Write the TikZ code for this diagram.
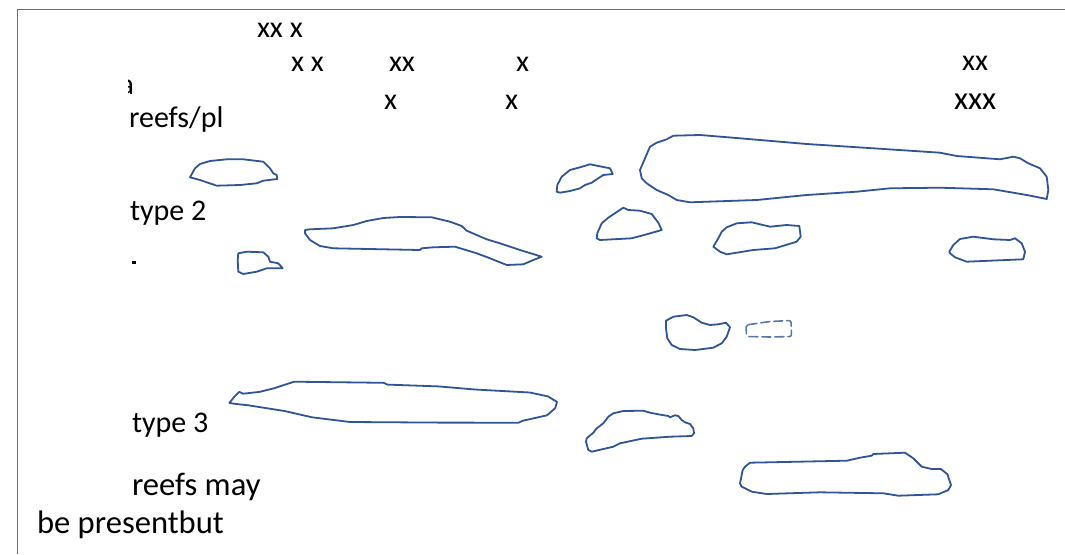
\documentclass[tikz,border=0pt]{standalone}
\usepackage{fontspec}
\setmainfont{Carlito}
\definecolor{reefblue}{HTML}{2F5597}
\tikzset{
  reef/.style={draw=reefblue, line width=1.8pt, line join=round, line cap=round},
  frameline/.style={draw=reefblue!85, line width=1.8pt},
  lbl/.style={anchor=base west, inner sep=0pt, outer sep=0pt, font=\fontsize{30}{36}\selectfont, text=black},
  biglbl/.style={lbl, font=\fontsize{32.6}{38}\selectfont}
}
\begin{document}
\begin{tikzpicture}[x=1pt,y=-1pt]
\useasboundingbox (0,0) rectangle (1065,554);
% frame
\draw[frameline] (17.5,554) -- (17.5,9.5) -- (1065,9.5);
% texts
\node[lbl] (t1) at (257,37) {xx x};
\node[lbl] (t2) at (291,71) {x x};
\node[lbl] (t3) at (389,71) {xx};
\node[lbl] (t4) at (516,71) {x};
\node[lbl] (t5) at (962,70) {xx};
\node[lbl] (t6) at (384,109) {x};
\node[lbl] (t7) at (505,109) {x};
\node[biglbl] (t8) at (954,109) {xxx};
\begin{scope}
\clip (128,70) rectangle (200,100);
\node[lbl] (ta) at (119.5,94) {a};
\end{scope}
\node[lbl] (t9) at (129,127) {reefs/pl};
\node[lbl] (t10) at (130,220) {type 2};
\fill[black] (132,261) rectangle (135.5,263.5);
\node[lbl] (t11) at (132,432) {type 3};
\node[biglbl] (t12) at (132,495) {reefs may};
\node[biglbl] (t13) at (37,533) {be presentbut};
% reefs
\draw[reef] (190,177.3) -- (195,168.3) -- (200,164) -- (210,161) -- (226.7,159.3) -- (243.3,159.3) -- (263.3,161.7) -- (270,168.3) -- (273.3,173.3) -- (276.7,175) -- (277.3,179) -- (263.3,180.7) -- (256.7,183.3) -- (240,185) -- (216.7,185.7) -- (200,180) -- cycle;
\draw[reef] (238.3,253.3) -- (246.7,251.7) -- (263.3,252.3) -- (268.3,256.7) -- (270,261.7) -- (278.3,263.3) -- (282.7,268.3) -- (266.7,268.3) -- (256.7,271.7) -- (243.3,274) -- (238.3,271.7) -- (237.7,260) -- cycle;
\draw[reef] (305,230) -- (310,229.3) -- (333.3,228.3) -- (353.3,225) -- (366.7,221) -- (383.3,218) -- (400,217) -- (431.7,217.3) -- (450,221.7) -- (461.7,226) -- (466.7,230.7) -- (476.7,235) -- (486.7,239.3) -- (500,243.3) -- (520,250) -- (541.7,256.7) -- (533.3,260) -- (523.3,264.3) -- (506.7,265) -- (490,258.3) -- (476.7,253.3) -- (455,246.7) -- (433.3,247.3) -- (421.7,248.3) -- (420,250) -- (333.3,248.3) -- (320,246) -- (310,240) -- (305,233.3) -- cycle;
\draw[reef] (556.7,191.7) -- (557.3,185) -- (561.7,176.7) -- (570,170) -- (580,167.3) -- (590,164.3) -- (598.3,166) -- (610,168.3) -- (612.7,174) -- (603.3,175) -- (596.7,179.3) -- (591.7,182.7) -- (585,185) -- (580,188.3) -- (570,191) -- (560,192.7) -- cycle;
\draw[reef] (673.3,135.7) -- (700,135) -- (740,138.3) -- (806.7,144) -- (873.3,148.3) -- (940,152.7) -- (956.7,156) -- (1000,159.3) -- (1013.3,156.7) -- (1020,158.3) -- (1028.3,163.3) -- (1040,168.3) -- (1046.7,176.7) -- (1048.3,190) -- (1046.7,199) -- (1026.7,195) -- (993.3,189.3) -- (940,187.7) -- (890,188.3) -- (873.3,190) -- (856.7,191.7) -- (806.7,195) -- (756.7,200) -- (690,202.3) -- (676.7,200) -- (668.3,195) -- (656.7,190) -- (646.7,183.3) -- (641.7,178.3) -- (640,170) -- (645,158.3) -- (650,146.7) -- (656.7,142.7) -- (666.7,139.3) -- cycle;
\draw[reef] (596.7,238.3) -- (597.3,233.3) -- (601.7,223.3) -- (608.3,217.7) -- (623.3,207.7) -- (628.3,210) -- (640,210.7) -- (651.7,214) -- (658.3,222.7) -- (661.7,230) -- (646.7,234.3) -- (631.7,238.3) -- (600,240) -- cycle;
\draw[reef] (713.3,246.7) -- (718.3,238.3) -- (721.7,231.7) -- (726.7,227.3) -- (736.7,223.3) -- (751.7,222.3) -- (770,226.7) -- (786.7,225) -- (799.3,226) -- (800.7,236.7) -- (796.7,241.7) -- (775,248.3) -- (753.3,250) -- (726.7,254.3) -- (720,251.7) -- cycle;
\draw[reef] (949.3,251.7) -- (953.3,245) -- (960,239) -- (973.3,236.7) -- (993.3,239.3) -- (1010,240) -- (1015,238.3) -- (1021.7,243.3) -- (1025,251.7) -- (1023.3,259.3) -- (990,260.7) -- (966.7,261.7) -- (955,257.3) -- (950,253.3) -- cycle;
\draw[reef] (666,320.7) -- (673.3,316.7) -- (686.7,315) -- (693.3,317.3) -- (701.7,322.7) -- (710,325) -- (718.3,324.3) -- (726,322.7) -- (730,327.3) -- (726.7,336.7) -- (721.7,343.3) -- (713.3,347.7) -- (695,350) -- (680,349) -- (671.7,345) -- (667.3,338.3) -- (666,328.3) -- cycle;
\draw[reef, line width=1.6pt, dash pattern=on 9pt off 4pt, draw=reefblue!80, rounded corners=2pt] (746,325) -- (770,321.5) -- (791,320.5) -- (791.5,336.5) -- (770,337) -- (746.5,336.5) -- cycle;
\draw[reef] (229.4,402.9) -- (233.8,397.4) -- (239.3,391.9) -- (243,393.7) -- (259.4,391.9) -- (274,388.3) -- (294.1,381.7) -- (383.6,382.8) -- (387.3,384.6) -- (438.4,386.4) -- (475,389.5) -- (529.8,392.5) -- (548,396.4) -- (557,401.9) -- (555.2,408.2) -- (547,415.3) -- (522.5,420.8) -- (518.8,422.7) -- (438.4,422.6) -- (350,422) -- (312,417.3) -- (285,411.1) -- (248.4,405.3) -- (233.8,403.7) -- cycle;
\draw[reef] (586,441.7) -- (586.7,438.3) -- (593.3,432.7) -- (596.7,428.3) -- (603.3,423.3) -- (608.3,416.7) -- (613.3,413.3) -- (623.3,411) -- (643.3,410.7) -- (650,412.7) -- (658.3,414.3) -- (668.3,416) -- (670,417.3) -- (675,415.3) -- (678.3,416) -- (681.7,420) -- (685,422.3) -- (690,424) -- (693.3,428.3) -- (694,433.3) -- (691.7,436) -- (670,436.7) -- (641.7,438.7) -- (620,443.3) -- (613.3,446.7) -- (591.7,451.7) -- (588.3,450) -- cycle;
\draw[reef] (750,462.7) -- (846.7,460.7) -- (860,457.7) -- (871.7,455.7) -- (873.3,454) -- (905,452.7) -- (913.3,458.3) -- (921.7,466.7) -- (931.7,469) -- (940.7,469) -- (947.3,474) -- (951,485) -- (948.3,490) -- (938.3,494.3) -- (898.3,495.7) -- (883.3,493.3) -- (820,492.3) -- (766.7,494) -- (751.7,491.7) -- (741.7,486.7) -- (740,483.3) -- (742.7,470) -- (745,466.7) -- cycle;
\end{tikzpicture}
\end{document}
